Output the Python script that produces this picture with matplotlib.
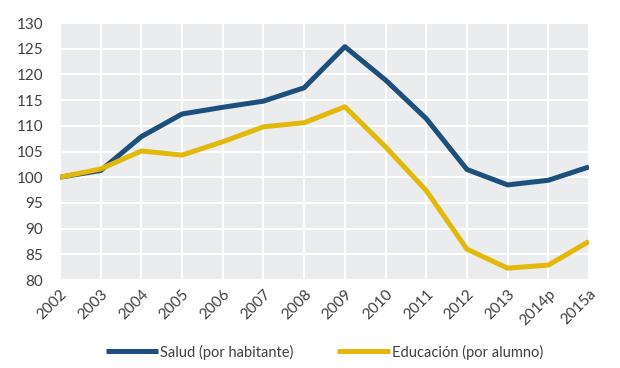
import matplotlib.pyplot as plt

plt.rcParams['font.family'] = ['Lato', 'DejaVu Sans']

years = ["2002", "2003", "2004", "2005", "2006", "2007", "2008", "2009",
         "2010", "2011", "2012", "2013", "2014p", "2015a"]
salud = [100.0, 101.3, 107.9, 112.3, 113.6, 114.8, 117.4, 125.4,
         118.9, 111.4, 101.5, 98.5, 99.4, 102.0]
educacion = [100.0, 101.6, 105.1, 104.3, 106.9, 109.8, 110.6, 113.7,
             105.9, 97.4, 86.0, 82.3, 82.9, 87.5]

fig = plt.figure(figsize=(6.2, 3.68), dpi=100)
ax = fig.add_axes([60/620, 1 - 280/368, 529/620, 257/368])

x = list(range(len(years)))
ax.plot(x, salud, color="#1d4f7c", lw=3.6, label="Salud (por habitante)", solid_capstyle="butt")
ax.plot(x, educacion, color="#e2b80b", lw=3.6, label="Educación (por alumno)", solid_capstyle="butt")

ax.set_facecolor("#ebecee")
ax.set_xlim(0, len(years) - 1)
ax.set_ylim(80, 130)
ax.set_yticks(range(80, 131, 5))
ax.set_xticks(x)
ax.set_xticklabels(years, rotation=45, ha="right", rotation_mode="anchor")
ax.grid(True, color="white", lw=1.5)
ax.set_axisbelow(True)
for s in ax.spines.values():
    s.set_visible(False)
ax.tick_params(length=0, labelsize=11, labelcolor="#404040")
ax.tick_params(axis="y", pad=12)
ax.tick_params(axis="x", pad=5)

ax.legend(loc="upper center", bbox_to_anchor=(0.5, -0.2), ncol=2, frameon=False,
          handlelength=3.6, fontsize=10.5, columnspacing=3, handletextpad=0.15,
          labelcolor="#404040")

fig.savefig("out.png", dpi=100)
